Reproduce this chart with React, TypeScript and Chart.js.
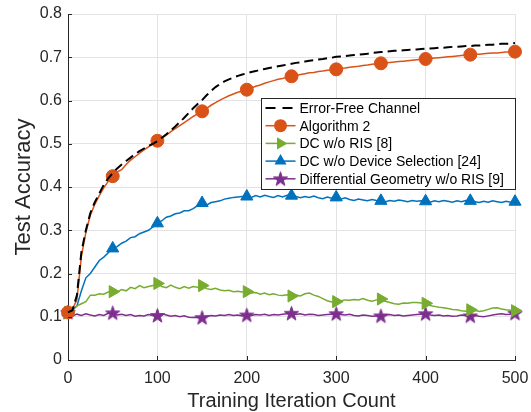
import React, { useEffect, useRef } from 'react';
import { Chart, registerables } from 'chart.js';

Chart.register(...registerables);

// ---------- data ----------
const iterations: number[] = Array.from({ length: 101 }, (_, i) => i * 5);
const markerEvery = 50;
const xTickValues = [0, 100, 200, 300, 400, 500];
const yTickValues = [0, 0.1, 0.2, 0.3, 0.4, 0.5, 0.6, 0.7, 0.8];

const seriesLabels = [
  'Error-Free Channel',
  'Algorithm 2',
  'DC w/o RIS [8]',
  'DC w/o Device Selection [24]',
  'Differential Geometry w/o RIS [9]',
];

const errorFree = [
  0.110, 0.115, 0.150, 0.250, 0.300, 0.340, 0.365, 0.385, 0.405, 0.420,
  0.432, 0.443, 0.452, 0.460, 0.468, 0.476, 0.483, 0.489, 0.495, 0.500,
  0.506, 0.514, 0.522, 0.531, 0.540, 0.550, 0.560, 0.571, 0.582, 0.592,
  0.601, 0.612, 0.622, 0.631, 0.638, 0.644, 0.649, 0.653, 0.657, 0.660,
  0.663, 0.666, 0.668, 0.671, 0.673, 0.675, 0.677, 0.679, 0.681, 0.683,
  0.685, 0.687, 0.688, 0.690, 0.692, 0.693, 0.695, 0.696, 0.698, 0.699,
  0.701, 0.702, 0.703, 0.704, 0.705, 0.706, 0.707, 0.708, 0.710, 0.711,
  0.712, 0.713, 0.714, 0.715, 0.715, 0.716, 0.717, 0.718, 0.718, 0.719,
  0.720, 0.720, 0.721, 0.722, 0.722, 0.723, 0.724, 0.724, 0.725, 0.726,
  0.726, 0.727, 0.727, 0.728, 0.729, 0.729, 0.730, 0.731, 0.731, 0.732,
  0.733,
];

const algorithm2 = [
  0.110, 0.118, 0.140, 0.240, 0.295, 0.335, 0.360, 0.380, 0.398, 0.413,
  0.425, 0.435, 0.440, 0.452, 0.462, 0.470, 0.478, 0.486, 0.493, 0.500,
  0.507, 0.513, 0.520, 0.528, 0.535, 0.542, 0.549, 0.556, 0.563, 0.569,
  0.575, 0.582, 0.589, 0.595, 0.601, 0.606, 0.611, 0.615, 0.619, 0.622,
  0.625, 0.629, 0.633, 0.636, 0.640, 0.643, 0.646, 0.649, 0.651, 0.654,
  0.656, 0.658, 0.660, 0.662, 0.664, 0.665, 0.667, 0.668, 0.670, 0.671,
  0.672, 0.674, 0.675, 0.677, 0.678, 0.679, 0.681, 0.682, 0.684, 0.685,
  0.686, 0.687, 0.688, 0.689, 0.690, 0.691, 0.692, 0.693, 0.694, 0.695,
  0.696, 0.697, 0.698, 0.699, 0.700, 0.701, 0.702, 0.703, 0.704, 0.705,
  0.706, 0.707, 0.707, 0.708, 0.709, 0.710, 0.710, 0.711, 0.712, 0.712,
  0.713,
];

const dcWithoutRis = [
  0.110, 0.118, 0.125, 0.130, 0.135, 0.150, 0.150, 0.153, 0.152, 0.157,
  0.158, 0.157, 0.163, 0.160, 0.168, 0.165, 0.172, 0.167, 0.170, 0.172,
  0.177, 0.170, 0.167, 0.173, 0.168, 0.165, 0.170, 0.166, 0.170, 0.168,
  0.172, 0.165, 0.163, 0.166, 0.162, 0.160, 0.161, 0.158, 0.159, 0.157,
  0.158, 0.155, 0.156, 0.152, 0.155, 0.151, 0.153, 0.150, 0.149, 0.151,
  0.148, 0.150, 0.148, 0.153, 0.155, 0.150, 0.147, 0.142, 0.137, 0.134,
  0.135, 0.137, 0.139, 0.138, 0.140, 0.139, 0.142, 0.138, 0.136, 0.139,
  0.141, 0.136, 0.133, 0.130, 0.129, 0.132, 0.131, 0.133, 0.133, 0.132,
  0.131, 0.126, 0.124, 0.122, 0.121, 0.119, 0.117, 0.116, 0.114, 0.113,
  0.116, 0.115, 0.112, 0.114, 0.117, 0.120, 0.121, 0.118, 0.116, 0.115,
  0.114,
];

const dcWithoutSelection = [
  0.110, 0.115, 0.125, 0.160, 0.190, 0.200, 0.215, 0.230, 0.238, 0.248,
  0.258, 0.262, 0.270, 0.275, 0.283, 0.285, 0.292, 0.296, 0.300, 0.308,
  0.316, 0.322, 0.330, 0.333, 0.338, 0.340, 0.345, 0.345, 0.350, 0.357,
  0.363, 0.358, 0.364, 0.366, 0.368, 0.372, 0.374, 0.376, 0.377, 0.378,
  0.378, 0.376, 0.380, 0.377, 0.381, 0.378, 0.376, 0.380, 0.377, 0.381,
  0.380, 0.378, 0.375, 0.378, 0.376, 0.379, 0.375, 0.373, 0.377, 0.374,
  0.376, 0.372, 0.375, 0.371, 0.369, 0.372, 0.370, 0.368, 0.371, 0.369,
  0.368, 0.366, 0.369, 0.367, 0.370, 0.368, 0.366, 0.369, 0.367, 0.368,
  0.367, 0.365, 0.368, 0.366, 0.369, 0.367, 0.365, 0.368, 0.366, 0.369,
  0.368, 0.366, 0.364, 0.367, 0.365, 0.368, 0.366, 0.364, 0.367, 0.365,
  0.366,
];

const diffGeometry = [
  0.110, 0.102, 0.106, 0.103, 0.107, 0.104, 0.102, 0.105, 0.103, 0.108,
  0.109, 0.104, 0.106, 0.103, 0.105, 0.101, 0.103, 0.102, 0.105, 0.103,
  0.103, 0.107, 0.104, 0.101, 0.103, 0.100, 0.102, 0.099, 0.098, 0.099,
  0.098, 0.101, 0.103, 0.102, 0.104, 0.103, 0.105, 0.103, 0.104, 0.102,
  0.104, 0.103, 0.105, 0.104, 0.106, 0.103, 0.105, 0.104, 0.106, 0.107,
  0.108, 0.105, 0.107, 0.104, 0.106, 0.105, 0.103, 0.104, 0.105, 0.106,
  0.107, 0.105, 0.104, 0.106, 0.103, 0.102, 0.104, 0.103, 0.101, 0.102,
  0.102, 0.104, 0.105, 0.103, 0.104, 0.102, 0.103, 0.104, 0.105, 0.106,
  0.107, 0.104, 0.103, 0.104, 0.102, 0.103, 0.101, 0.102, 0.104, 0.103,
  0.102, 0.103, 0.101, 0.100, 0.102, 0.104, 0.106, 0.107, 0.105, 0.106,
  0.108,
];

// ---------- styles ----------
const FONT = "'Liberation Sans', Arial, Helvetica, sans-serif";
const TEXT = '#262626';
const COLORS = ['#000000', '#D95319', '#77AC30', '#0072BD', '#7E2F8E'];

function makeStar(color: string, R: number): HTMLCanvasElement {
  const size = Math.ceil(R * 2) + 2;
  const c = document.createElement('canvas');
  c.width = size;
  c.height = size;
  const g = c.getContext('2d')!;
  g.fillStyle = color;
  g.strokeStyle = color;
  g.lineWidth = 1;
  g.beginPath();
  const r = R * 0.4;
  for (let k = 0; k < 10; k++) {
    const rad = k % 2 === 0 ? R : r;
    const a = -Math.PI / 2 + (k * Math.PI) / 5;
    const px = size / 2 + rad * Math.cos(a);
    const py = size / 2 + 0.6 + rad * Math.sin(a);
    if (k === 0) g.moveTo(px, py);
    else g.lineTo(px, py);
  }
  g.closePath();
  g.fill();
  g.stroke();
  return c;
}

function drawMarker(ctx: CanvasRenderingContext2D, kind: string, x: number, y: number, color: string, star: HTMLCanvasElement) {
  ctx.save();
  ctx.fillStyle = color;
  ctx.strokeStyle = color;
  ctx.lineWidth = 1;
  ctx.beginPath();
  if (kind === 'circle') {
    ctx.arc(x, y, 6.5, 0, Math.PI * 2);
    ctx.fill();
  } else if (kind === 'up' || kind === 'right') {
    const r = 7;
    const base = kind === 'right' ? Math.PI / 2 : 0;
    for (let k = 0; k < 3; k++) {
      const a = base + (k * 2 * Math.PI) / 3;
      const px = x + Math.sin(a) * r;
      const py = y - Math.cos(a) * r;
      if (k === 0) ctx.moveTo(px, py);
      else ctx.lineTo(px, py);
    }
    ctx.closePath();
    ctx.fill();
  } else if (kind === 'star') {
    ctx.drawImage(star, x - star.width / 2, y - star.height / 2);
  }
  ctx.restore();
}

export default function App() {
  const canvasRef = useRef<HTMLCanvasElement | null>(null);

  useEffect(() => {
    if (!canvasRef.current) return;
    const star = makeStar(COLORS[4], 7.5);
    const toXY = (vals: number[]) => vals.map((v, i) => ({ x: iterations[i], y: v }));
    const isMarker = (c: any) => iterations[c.dataIndex] % markerEvery === 0;

    const legendKinds = ['dash', 'circle', 'right', 'up', 'star'];

    const frame = {
      id: 'matlabFrame',
      afterDraw(chart: any) {
        const ctx: CanvasRenderingContext2D = chart.ctx;
        const area = chart.chartArea;
        const xs = chart.scales.x;
        const ys = chart.scales.y;
        // inward ticks
        ctx.save();
        ctx.strokeStyle = TEXT;
        ctx.lineWidth = 1;
        ctx.beginPath();
        yTickValues.forEach((v) => {
          const py = Math.round(ys.getPixelForValue(v)) + 0.5;
          ctx.moveTo(area.left, py);
          ctx.lineTo(area.left + 4, py);
        });
        xTickValues.forEach((v) => {
          const px = Math.round(xs.getPixelForValue(v)) + 0.5;
          ctx.moveTo(px, area.bottom);
          ctx.lineTo(px, area.bottom - 4);
        });
        ctx.stroke();
        ctx.restore();

        // legend
        const w = 254;
        const h = 91;
        const bx = Math.round(area.right - w) + 0.5;
        const by = Math.round(area.top + 84) + 0.5;
        ctx.save();
        ctx.fillStyle = '#ffffff';
        ctx.fillRect(bx, by, w, h);
        ctx.strokeStyle = TEXT;
        ctx.lineWidth = 1;
        ctx.strokeRect(bx, by, w, h);
        ctx.font = `14px ${FONT}`;
        ctx.textBaseline = 'middle';
        ctx.textAlign = 'left';
        seriesLabels.forEach((label, k) => {
          const cy = by + 9.5 + k * 17.7;
          const color = COLORS[k];
          ctx.strokeStyle = color;
          if (legendKinds[k] === 'dash') {
            ctx.lineWidth = 2;
            ctx.beginPath();
            ctx.moveTo(bx + 4, cy);
            ctx.lineTo(bx + 14, cy);
            ctx.moveTo(bx + 21, cy);
            ctx.lineTo(bx + 31, cy);
            ctx.stroke();
          } else {
            ctx.lineWidth = 1.5;
            ctx.beginPath();
            ctx.moveTo(bx + 4, cy);
            ctx.lineTo(bx + 34, cy);
            ctx.stroke();
            drawMarker(ctx, legendKinds[k], bx + 19, cy, color, star);
          }
          ctx.fillStyle = '#000000';
          ctx.fillText(label, bx + 38, cy + 1);
        });
        ctx.restore();
      },
    };

    const chart = new Chart(canvasRef.current, {
      type: 'line',
      data: {
        datasets: [
          {
            label: seriesLabels[0],
            data: toXY(errorFree),
            borderColor: COLORS[0],
            borderWidth: 2,
            borderDash: [9, 5],
            pointRadius: 0,
            clip: false as any,
          },
          {
            label: seriesLabels[1],
            data: toXY(algorithm2),
            borderColor: COLORS[1],
            backgroundColor: COLORS[1],
            borderWidth: 1.5,
            pointStyle: 'circle',
            pointRadius: (c: any) => (isMarker(c) ? 6.5 : 0),
            pointBorderWidth: 1,
            pointBackgroundColor: COLORS[1],
            pointBorderColor: COLORS[1],
            clip: false as any,
          },
          {
            label: seriesLabels[2],
            data: toXY(dcWithoutRis),
            borderColor: COLORS[2],
            backgroundColor: COLORS[2],
            borderWidth: 1.5,
            pointStyle: 'triangle',
            pointRotation: 90,
            pointRadius: (c: any) => (isMarker(c) ? 7 : 0),
            pointBorderWidth: 1,
            pointBackgroundColor: COLORS[2],
            pointBorderColor: COLORS[2],
            clip: false as any,
          },
          {
            label: seriesLabels[3],
            data: toXY(dcWithoutSelection),
            borderColor: COLORS[3],
            backgroundColor: COLORS[3],
            borderWidth: 1.5,
            pointStyle: 'triangle',
            pointRadius: (c: any) => (isMarker(c) ? 7 : 0),
            pointBorderWidth: 1,
            pointBackgroundColor: COLORS[3],
            pointBorderColor: COLORS[3],
            clip: false as any,
          },
          {
            label: seriesLabels[4],
            data: toXY(diffGeometry),
            borderColor: COLORS[4],
            backgroundColor: COLORS[4],
            borderWidth: 1.5,
            pointStyle: star as any,
            pointRadius: (c: any) => (isMarker(c) ? 7 : 0),
            clip: false as any,
          },
        ],
      },
      options: {
        animation: false,
        responsive: true,
        maintainAspectRatio: false,
        events: [],
        layout: { padding: { top: 14, right: 16, left: 0, bottom: 0 } },
        plugins: {
          legend: { display: false },
          tooltip: { enabled: false },
        },
        elements: { line: { tension: 0 } },
        scales: {
          x: {
            type: 'linear',
            min: 0,
            max: 500,
            afterFit: (s: any) => {
              s.height = 52;
              s.paddingLeft = 0;
              s.paddingRight = 0;
            },
            afterBuildTicks: (s: any) => {
              s.ticks = xTickValues.map((v) => ({ value: v }));
            },
            ticks: {
              font: { family: FONT, size: 16 },
              color: TEXT,
              padding: 9,
              maxRotation: 0,
              autoSkip: false,
              callback: (v: any) => String(v),
            },
            grid: { color: '#e3e3e3', drawTicks: false, lineWidth: 1 },
            border: { color: TEXT, width: 1 },
            title: {
              display: true,
              text: 'Training Iteration Count',
              font: { family: FONT, size: 20 },
              color: TEXT,
              padding: { top: 0, bottom: -1 },
            },
          },
          y: {
            type: 'linear',
            min: 0,
            max: 0.8,
            afterFit: (s: any) => {
              s.width = 68;
              s.paddingTop = 0;
              s.paddingBottom = 0;
            },
            afterBuildTicks: (s: any) => {
              s.ticks = yTickValues.map((v) => ({ value: v }));
            },
            ticks: {
              font: { family: FONT, size: 16 },
              color: TEXT,
              padding: 6,
              autoSkip: false,
              callback: (v: any) => String(Math.round(Number(v) * 10) / 10),
            },
            grid: { color: '#e3e3e3', drawTicks: false, lineWidth: 1 },
            border: { color: TEXT, width: 1 },
            title: {
              display: true,
              text: 'Test Accuracy',
              font: { family: FONT, size: 22 },
              color: TEXT,
              padding: { top: 11, bottom: 0 },
            },
          },
        },
      },
      plugins: [frame],
    } as any);

    return () => chart.destroy();
  }, []);

  return (
    <div style={{ position: 'absolute', left: 0, top: 0, width: 531, height: 412 }}>
      <canvas ref={canvasRef} />
    </div>
  );
}
